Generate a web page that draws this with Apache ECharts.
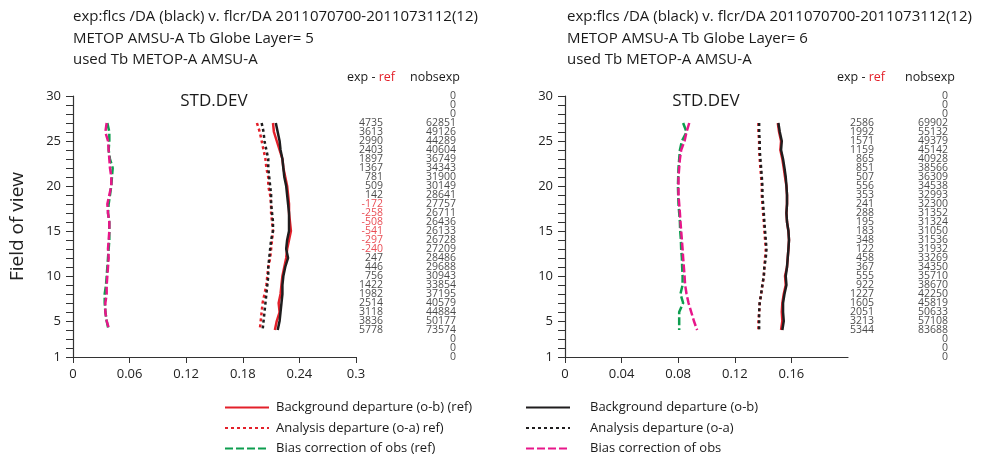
<!DOCTYPE html>
<html><head><meta charset="utf-8">
<script src="https://cdn.jsdelivr.net/npm/echarts@6/dist/echarts.min.js"></script>
<style>html,body{margin:0;padding:0;background:#fff}#c{width:988px;height:459px}</style>
</head><body><div id="c"></div>
<script>
// Field of view rows with data (27 .. 4) and all rows (30 .. 1)
const fov = [27,26,25,24,23,22,21,20,19,18,17,16,15,14,13,12,11,10,9,8,7,6,5,4];
const fovAll = [30,29,28,27,26,25,24,23,22,21,20,19,18,17,16,15,14,13,12,11,10,9,8,7,6,5,4,3,2,1];

// Left panel (Layer 5)
const L_refBg   = [0.212,0.213,0.216,0.219,0.222,0.223,0.225,0.227,0.228,0.229,0.229,0.230,0.231,0.229,0.227,0.226,0.224,0.222,0.221,0.220,0.218,0.219,0.216,0.214];
const L_expBg   = [0.215,0.217,0.219,0.220,0.222,0.223,0.224,0.226,0.227,0.228,0.229,0.229,0.229,0.227,0.226,0.228,0.225,0.223,0.222,0.222,0.221,0.220,0.219,0.217];
const L_refAn   = [0.195,0.198,0.200,0.202,0.204,0.205,0.207,0.207,0.209,0.210,0.210,0.211,0.212,0.211,0.210,0.209,0.207,0.206,0.205,0.203,0.201,0.200,0.199,0.198];
const L_expAn   = [0.200,0.202,0.203,0.205,0.207,0.207,0.208,0.209,0.210,0.210,0.211,0.212,0.212,0.210,0.209,0.208,0.207,0.207,0.206,0.205,0.204,0.203,0.202,0.201];
const L_refBias = [0.0364,0.0385,0.0385,0.0378,0.0392,0.0421,0.0413,0.0406,0.0392,0.0378,0.0371,0.0385,0.0385,0.0385,0.0378,0.0371,0.0364,0.0357,0.0350,0.0336,0.0336,0.0343,0.0357,0.0378];
const L_expBias = [0.0357,0.0343,0.0371,0.0378,0.0385,0.0392,0.0406,0.0406,0.0385,0.0364,0.0371,0.0385,0.0385,0.0378,0.0371,0.0378,0.0371,0.0364,0.0357,0.0357,0.0343,0.0343,0.0357,0.0385];
const L_expRef  = [4735,3613,2990,2403,1897,1367,781,509,142,-172,-258,-508,-541,-297,-240,247,446,756,1422,1982,2514,3118,3836,5778];
const L_nobs    = [0,0,0,62851,49126,44289,40604,36749,34343,31900,30149,28641,27757,26711,26436,26133,26728,27209,28486,29688,30943,33854,37195,40579,44884,50177,73574,0,0,0];

// Right panel (Layer 6)
const R_refBg   = [0.1504,0.1513,0.1527,0.1522,0.1536,0.1546,0.1555,0.1565,0.1569,0.1569,0.1565,0.1569,0.1579,0.1583,0.1579,0.1574,0.1569,0.1555,0.1560,0.1546,0.1536,0.1532,0.1536,0.1527];
const R_expBg   = [0.1508,0.1518,0.1532,0.1527,0.1541,0.1551,0.1560,0.1565,0.1569,0.1569,0.1565,0.1569,0.1579,0.1583,0.1579,0.1574,0.1569,0.1560,0.1565,0.1551,0.1541,0.1541,0.1546,0.1536];
const R_refAn   = [0.1367,0.1367,0.1372,0.1372,0.1376,0.1381,0.1386,0.1391,0.1391,0.1395,0.1400,0.1405,0.1409,0.1414,0.1419,0.1414,0.1409,0.1405,0.1395,0.1386,0.1376,0.1372,0.1367,0.1367];
const R_expAn   = [0.1372,0.1372,0.1376,0.1376,0.1381,0.1386,0.1391,0.1395,0.1395,0.1400,0.1405,0.1409,0.1414,0.1419,0.1424,0.1419,0.1409,0.1405,0.1395,0.1386,0.1376,0.1372,0.1372,0.1372];
const R_refBias = [0.0835,0.0859,0.0826,0.0812,0.0807,0.0802,0.0800,0.0798,0.0800,0.0802,0.0807,0.0812,0.0814,0.0819,0.0821,0.0826,0.0828,0.0831,0.0831,0.0816,0.0835,0.0807,0.0807,0.0807];
const R_expBias = [0.0878,0.0859,0.0845,0.0821,0.0812,0.0807,0.0802,0.0802,0.0802,0.0807,0.0812,0.0816,0.0821,0.0826,0.0831,0.0835,0.0840,0.0845,0.0849,0.0859,0.0873,0.0892,0.0911,0.0934];
const R_expRef  = [2586,1992,1571,1159,865,851,507,556,353,241,288,195,183,348,122,458,367,555,922,1227,1605,2051,3213,5344];
const R_nobs    = [0,0,0,69902,55132,49379,45142,40928,38566,36309,34538,32993,32300,31352,31324,31050,31536,31932,33269,34350,35710,38670,42250,45819,50633,57108,83688,0,0,0];

const titleLines = ['exp:flcs /DA (black) v. flcr/DA 2011070700-2011073112(12)', 'used Tb METOP-A AMSU-A'];
const layerTitles = ['METOP AMSU-A Tb Globe Layer= 5', 'METOP AMSU-A Tb Globe Layer= 6'];
const xTicksLeft = [0, 0.3, 0.06];
const xTicksRight = [0, 0.2, 0.04];

const NAMES = {
  refBg: 'Background departure (o-b) (ref)',
  refAn: 'Analysis departure (o-a) ref)',
  refBias: 'Bias correction of obs (ref)',
  expBg: 'Background departure (o-b)',
  expAn: 'Analysis departure (o-a)',
  expBias: 'Bias correction of obs'
};
const RED = '#e3202a', BLACK = '#1f1d1e', GREEN = '#0d9e4f', MAG = '#e8168a';
const FONT = '"Open Sans", "Noto Sans", sans-serif';
const AX = '#333';

function lineSeries(name, vals, idx, color, type) {
  return {
    name, type: 'line', xAxisIndex: idx, yAxisIndex: idx,
    data: fov.map((f, i) => [vals[i], f]),
    symbol: 'none', smooth: false,
    lineStyle: { color, width: 2.5, type, cap: 'butt' },
    itemStyle: { color },
    z: 3
  };
}
function numSeries(idx, xpos, rows, vals) {
  return {
    type: 'scatter', xAxisIndex: idx, yAxisIndex: idx, symbolSize: 0, silent: true,
    data: rows.map((f, i) => ({
      value: [xpos, f, vals[i]],
      label: { color: vals[i] < 0 ? '#e3202a' : '#1a1a1a' }
    })),
    label: { show: true, position: 'left', distance: 0, fontFamily: FONT, fontSize: 10.5,
      formatter: p => String(p.value[2]) }
  };
}
const DOT = [3, 3], DASH = [8, 3];

const gridDefs = [
  { left: 73, top: 96, width: 283, height: 261 },
  { left: 565, top: 96, width: 283, height: 261 },
  { left: 383, top: 96, width: 73, height: 261 },
  { left: 874, top: 96, width: 74, height: 261 }
];

function mainX(idx, t, hideMax) {
  return { type: 'value', gridIndex: idx, min: t[0], max: t[1], interval: t[2],
    axisLine: { show: true, lineStyle: { color: AX, width: 1.2 } },
    axisTick: { show: true, inside: false, length: 6, lineStyle: { color: AX } },
    splitLine: { show: false },
    axisLabel: { fontFamily: FONT, fontSize: 13, color: '#222', margin: 11, showMaxLabel: !hideMax,
      formatter: v => String(+v.toFixed(2)) } };
}
function mainY(idx, named) {
  const y = { type: 'value', gridIndex: idx, min: 1, max: 30, interval: 1,
    axisLine: { show: true, lineStyle: { color: AX, width: 1.2 } },
    axisTick: { show: true, inside: false, length: 7, lineStyle: { color: AX } },
    splitLine: { show: false },
    axisLabel: { fontFamily: FONT, fontSize: 13, color: '#222', margin: 12,
      formatter: v => (v === 1 || v % 5 === 0) ? String(v) : '' } };
  if (named) Object.assign(y, { name: 'Field of view', nameLocation: 'middle', nameGap: 46,
    nameTextStyle: { fontFamily: FONT, fontSize: 19, color: '#222' } });
  return y;
}
const hidX = i => ({ type: 'value', gridIndex: i, min: 0, max: 1, show: false });
const hidY = i => ({ type: 'value', gridIndex: i, min: 1, max: 30, show: false });

function headerTexts(x0, stdCx, expRefRight, nobsRight, layer) {
  const st = { fontFamily: FONT, fontSize: 15, fill: '#1a1a1a' };
  return [
    { type: 'text', x: x0, y: 17, style: Object.assign({ text: titleLines[0], verticalAlign: 'middle' }, st) },
    { type: 'text', x: x0, y: 39, style: Object.assign({ text: layer, verticalAlign: 'middle' }, st) },
    { type: 'text', x: x0, y: 60, style: Object.assign({ text: titleLines[1], verticalAlign: 'middle' }, st) },
    { type: 'text', x: stdCx, y: 101, style: { text: 'STD.DEV', fontFamily: FONT, fontSize: 17, fill: '#1a1a1a', align: 'center', verticalAlign: 'middle' } },
    { type: 'text', x: expRefRight, y: 77, style: { text: '{a|exp - }{b|ref}', align: 'right', verticalAlign: 'middle',
      rich: { a: { fontFamily: FONT, fontSize: 12.5, fill: '#1a1a1a' }, b: { fontFamily: FONT, fontSize: 12.5, fill: '#e3202a' } } } },
    { type: 'text', x: nobsRight, y: 77, style: { text: 'nobsexp', fontFamily: FONT, fontSize: 12.5, fill: '#1a1a1a', align: 'right', verticalAlign: 'middle' } }
  ];
}

const legendCommon = {
  orient: 'vertical', top: 401, padding: 0, itemWidth: 44, itemHeight: 14, itemGap: 7.5,
  itemStyle: { opacity: 0 },
  selectedMode: false
};
const option = {
  animation: false,
  backgroundColor: '#fff',
  grid: gridDefs,
  xAxis: [mainX(0, xTicksLeft, false), mainX(1, xTicksRight, true), hidX(2), hidX(3)],
  yAxis: [mainY(0, true), mainY(1, false), hidY(2), hidY(3)],
  legend: [
    Object.assign({}, legendCommon, { left: 224, data: [NAMES.refBg, NAMES.refAn, NAMES.refBias],
      textStyle: { fontFamily: FONT, fontSize: 13, color: '#1a1a1a', padding: [0, 0, 0, 2] } }),
    Object.assign({}, legendCommon, { left: 525, data: [NAMES.expBg, NAMES.expAn, NAMES.expBias],
      textStyle: { fontFamily: FONT, fontSize: 13, color: '#1a1a1a', padding: [0, 0, 0, 15] } })
  ],
  graphic: headerTexts(73, 214, 395, 460, layerTitles[0]).concat(headerTexts(567, 706, 885, 955, layerTitles[1])),
  series: [
    lineSeries(NAMES.refBias, L_refBias, 0, GREEN, DASH),
    lineSeries(NAMES.expBias, L_expBias, 0, MAG, DASH),
    lineSeries(NAMES.refAn, L_refAn, 0, RED, DOT),
    lineSeries(NAMES.expAn, L_expAn, 0, BLACK, DOT),
    lineSeries(NAMES.refBg, L_refBg, 0, RED, 'solid'),
    lineSeries(NAMES.expBg, L_expBg, 0, BLACK, 'solid'),
    lineSeries(NAMES.refBias, R_refBias, 1, GREEN, DASH),
    lineSeries(NAMES.expBias, R_expBias, 1, MAG, DASH),
    lineSeries(NAMES.refAn, R_refAn, 1, RED, DOT),
    lineSeries(NAMES.expAn, R_expAn, 1, BLACK, DOT),
    lineSeries(NAMES.refBg, R_refBg, 1, RED, 'solid'),
    lineSeries(NAMES.expBg, R_expBg, 1, BLACK, 'solid'),
    numSeries(2, 0, fov, L_expRef),
    numSeries(2, 1, fovAll, L_nobs),
    numSeries(3, 0, fov, R_expRef),
    numSeries(3, 1, fovAll, R_nobs)
  ]
};
const chart = echarts.init(document.getElementById('c'), null, { renderer: 'canvas' });
chart.setOption(option);
</script>
</body></html>
